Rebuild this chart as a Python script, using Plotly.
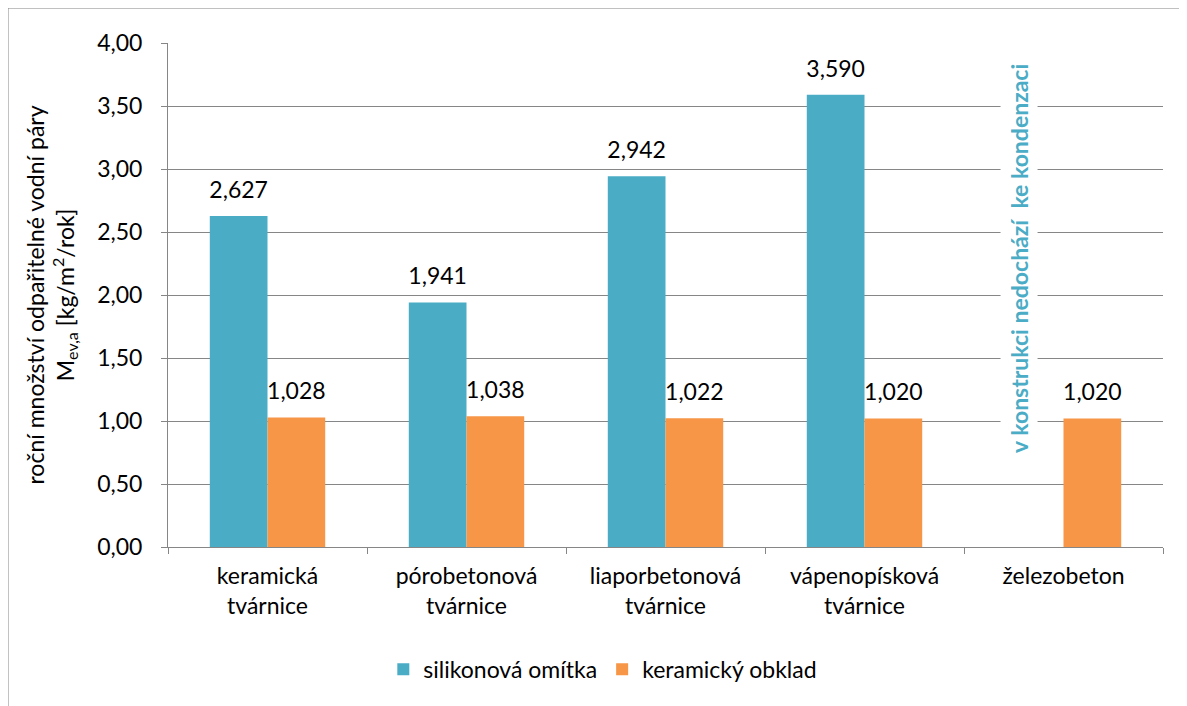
import plotly.graph_objects as go

categories = [
    "keramická<br>tvárnice",
    "pórobetonová<br>tvárnice",
    "liaporbetonová<br>tvárnice",
    "vápenopísková<br>tvárnice",
    "železobeton",
]
silikon = [2.627, 1.941, 2.942, 3.590, None]
keramika = [1.028, 1.038, 1.022, 1.020, 1.020]
y_ticks = [0, 0.5, 1.0, 1.5, 2.0, 2.5, 3.0, 3.5, 4.0]

BLUE = "#4bacc6"
ORANGE = "#f79646"
GRID = "#868686"
FONT = "Lato, Open Sans, sans-serif"
FS = 23

fig = go.Figure()
for name, vals, color, grp in [
    ("silikonová omítka", silikon, BLUE, "a"),
    ("keramický obklad", keramika, ORANGE, "b"),
]:
    fig.add_trace(go.Bar(
        name=name, x=categories, y=vals, offsetgroup=grp,
        marker=dict(color=color, line=dict(width=0)),
    ))
    # value labels; invisible markers push the text a bit above the bar top
    fig.add_trace(go.Scatter(
        x=categories, y=vals, offsetgroup=grp,
        mode="markers+text", texttemplate="%{y:.3f}", textposition="top center",
        textfont=dict(size=FS, color="black"),
        marker=dict(size=18, color="rgba(0,0,0,0)"),
        showlegend=False, hoverinfo="skip", cliponaxis=False,
    ))

# note in the empty slot of the last group
fig.add_annotation(
    x=4, xshift=-44, y=2.29, xref="x", yref="y",
    text="<b>v konstrukci nedochází  ke kondenzaci</b>",
    textangle=-90, showarrow=False,
    font=dict(size=23, color=BLUE, family=FONT),
    bgcolor="white", borderpad=4,
)

# outer chart frame
fig.add_shape(
    type="rect", xref="paper", yref="paper",
    x0=-0.1608, x1=1.05, y0=-0.4, y1=1.0694,
    line=dict(color=GRID, width=1), layer="below",
)

fig.update_layout(
    width=1179, height=698,
    margin=dict(l=160, r=24, t=35, b=159),
    paper_bgcolor="white", plot_bgcolor="white",
    font=dict(family=FONT, size=FS, color="black"),
    separators=", ",
    barmode="group", bargap=0.42, bargroupgap=0,
    scattermode="group", scattergap=0.42,
    showlegend=True,
    legend=dict(
        orientation="h", x=0.437, xanchor="center", y=-0.2, yanchor="top",
        font=dict(size=FS), itemwidth=30, traceorder="normal",
    ),
    xaxis=dict(
        type="category", tickson="boundaries",
        ticks="outside", ticklen=6, tickcolor=GRID,
        ticklabelstandoff=8,
        showline=True, linecolor=GRID, linewidth=1,
        showgrid=False, tickfont=dict(size=FS),
    ),
    yaxis=dict(
        range=[0, 4], tickvals=y_ticks, tickformat=".2f",
        ticks="outside", ticklen=6, tickcolor=GRID,
        ticklabelstandoff=14,
        showline=True, linecolor=GRID, linewidth=1,
        showgrid=True, gridcolor=GRID, gridwidth=1,
        zeroline=False, tickfont=dict(size=FS),
        title=dict(
            text="roční množství odpařitelné vodní páry<br>M<sub>ev,a</sub> [kg/m<sup>2</sup>/rok]",
            font=dict(size=FS), standoff=16,
        ),
    ),
)

fig.write_html("out.html")
